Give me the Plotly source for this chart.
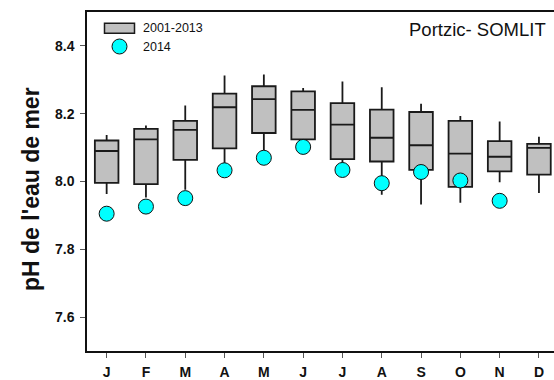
import plotly.graph_objects as go

# Monthly pH statistics, Portzic (SOMLIT), 2001-2013, and monthly values for 2014
months = ["J", "F", "M", "A", "M", "J", "J", "A", "S", "O", "N", "D"]
month_pos = list(range(1, 13))

upper_fence = [8.137, 8.165, 8.224, 8.313, 8.316, 8.276, 8.295, 8.278, 8.229, 8.193, 8.177, 8.132]
q3 = [8.121, 8.155, 8.179, 8.259, 8.281, 8.266, 8.231, 8.212, 8.205, 8.179, 8.119, 8.111]
median = [8.090, 8.124, 8.152, 8.219, 8.243, 8.211, 8.168, 8.129, 8.107, 8.082, 8.073, 8.099]
q1 = [7.996, 7.992, 8.064, 8.098, 8.143, 8.124, 8.066, 8.059, 8.034, 7.984, 8.030, 8.020]
lower_fence = [7.963, 7.953, 7.976, 8.054, 8.093, 8.105, 8.040, 7.961, 7.932, 7.937, 7.998, 7.966]

ph_2014_pos = list(range(1, 12))
ph_2014 = [7.905, 7.926, 7.951, 8.033, 8.070, 8.102, 8.034, 7.995, 8.028, 8.003, 7.943]

y_ticks = [7.6, 7.8, 8.0, 8.2, 8.4]

fig = go.Figure()

fig.add_trace(go.Box(
    x=month_pos,
    q1=q1, median=median, q3=q3,
    lowerfence=lower_fence, upperfence=upper_fence,
    width=0.6,
    whiskerwidth=0,
    fillcolor="#c0c0c0",
    line=dict(color="#1a1a1a", width=1.8),
    boxpoints=False,
    hoverinfo="skip",
    showlegend=False,
    name="2001-2013",
))

fig.add_trace(go.Scatter(
    x=ph_2014_pos, y=ph_2014,
    mode="markers",
    marker=dict(size=15, color="#00ffff", line=dict(color="#111111", width=1)),
    showlegend=False,
    name="2014",
))

W, H = 554, 380
L, R, T, B = 87, 0, 12, 29
pw, ph = W - L - R, H - T - B


def px_x(px):
    return (px - L) / pw


def px_y(py):
    return (H - B - py) / ph


shapes = [
    # legend: box symbol
    dict(type="rect", xref="paper", yref="paper",
         x0=px_x(104.5), x1=px_x(134.5), y0=px_y(33.3), y1=px_y(23.3),
         fillcolor="#c0c0c0", line=dict(color="#1a1a1a", width=1.5)),
    # legend: circle symbol
    dict(type="circle", xref="paper", yref="paper",
         x0=px_x(112), x1=px_x(127), y0=px_y(54), y1=px_y(39),
         fillcolor="#00ffff", line=dict(color="#111111", width=1)),
]

annotations = [
    dict(text="2001-2013", xref="paper", yref="paper", x=px_x(141), y=px_y(28.5),
         xanchor="left", yanchor="middle", showarrow=False,
         font=dict(family="Liberation Sans, Arial", size=12.5, color="#111111")),
    dict(text="2014", xref="paper", yref="paper", x=px_x(141), y=px_y(46.5),
         xanchor="left", yanchor="middle", showarrow=False,
         font=dict(family="Liberation Sans, Arial", size=12.5, color="#111111")),
    dict(text="Portzic- SOMLIT", xref="paper", yref="paper", x=px_x(548), y=px_y(30),
         xanchor="right", yanchor="middle", showarrow=False,
         font=dict(family="Liberation Sans, Arial", size=18.5, color="#111111")),
    dict(text="<b>pH de l'eau de mer</b>", xref="paper", yref="paper",
         x=px_x(31), y=px_y(189), textangle=-90,
         xanchor="center", yanchor="middle", showarrow=False,
         font=dict(family="Liberation Sans, Arial", size=23, color="#111111")),
]

fig.update_layout(
    width=W, height=H,
    margin=dict(l=L, r=R, t=T, b=B, pad=0),
    paper_bgcolor="white", plot_bgcolor="white",
    shapes=shapes,
    annotations=annotations,
    showlegend=False,
    xaxis=dict(
        range=[0.5, 0.5 + pw / 39.3],
        tickmode="array", tickvals=month_pos, ticktext=[f"<b>{m}</b>" for m in months],
        ticks="outside", ticklen=5, tickwidth=1, tickcolor="#555555",
        ticklabelstandoff=2,
        showline=True, linecolor="#111111", linewidth=1.5, mirror=True,
        showgrid=False, zeroline=False,
        tickfont=dict(family="Liberation Sans, Arial", size=14, color="#111111"),
    ),
    yaxis=dict(
        range=[7.5, 8.5],
        tickmode="array", tickvals=y_ticks, ticktext=[f"<b>{v:.1f}</b>" for v in y_ticks],
        ticks="outside", ticklen=5, tickwidth=1, tickcolor="#555555",
        ticklabelstandoff=3,
        showline=True, linecolor="#111111", linewidth=1.5, mirror=False,
        showgrid=False, zeroline=False,
        tickfont=dict(family="Liberation Sans, Arial", size=14, color="#111111"),
    ),
)

fig.write_html("out.html")
